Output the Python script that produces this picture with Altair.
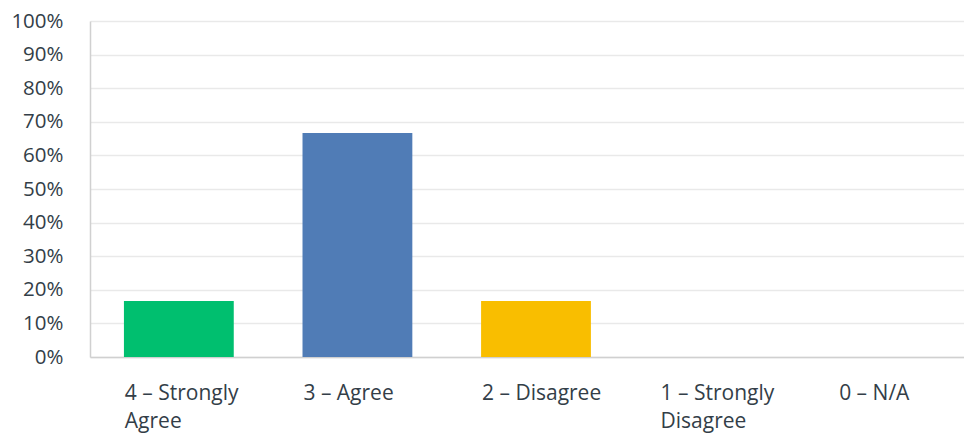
import altair as alt
import pandas as pd

categories = ["4 – Strongly Agree", "3 – Agree", "2 – Disagree", "1 – Strongly Disagree", "0 – N/A"]
values = [0.1667, 0.6667, 0.1667, 0.0, 0.0]
colors = ["#00BF6F", "#507CB6", "#F9BE00", "#6BC8CD", "#D25F90"]

df = pd.DataFrame({"category": categories, "value": values})

FONT = "Open Sans"
TEXT = "#333e48"

chart = alt.Chart(df).mark_bar().encode(
    x=alt.X("category:N", sort=categories, title=None,
            scale=alt.Scale(paddingInner=0.385, paddingOuter=0.19, range=[0, 892]),
            axis=alt.Axis(labelAngle=0, labelAlign="left", labelOffset=-54,
                          labelPadding=25, labelFontSize=21, labelFont=FONT,
                          labelColor=TEXT, labelLineHeight=28, labelBaseline="top",
                          labelExpr="split(replace(datum.label, 'Strongly ', 'Strongly|'), '|')",
                          ticks=False, domainColor="#d0d0d0", domainWidth=1.5,
                          labelLimit=300)),
    y=alt.Y("value:Q", title=None,
            scale=alt.Scale(domain=[0, 1]),
            axis=alt.Axis(format=".0%", values=[i / 10 for i in range(11)],
                          labelFontSize=20.5, labelFont=FONT, labelColor=TEXT,
                          labelPadding=27, ticks=False, domainColor="#d0d0d0",
                          domainWidth=1.5, gridColor="#e9e9e9", gridWidth=1.5)),
    color=alt.Color("category:N", sort=categories,
                    scale=alt.Scale(domain=categories, range=colors), legend=None),
).properties(
    width=874, height=336,
    autosize=alt.AutoSizeParams(type="none"),
    padding={"left": 82, "top": 13, "right": 0, "bottom": 80},
).configure_view(stroke=None)

chart.save("out.html", embed_options={"renderer": "svg", "actions": False})
